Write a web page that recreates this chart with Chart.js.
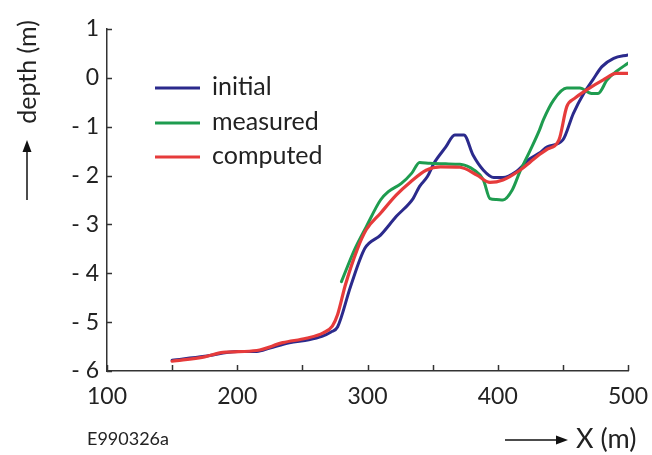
<!DOCTYPE html>
<html><head><meta charset="utf-8">
<script src="https://cdn.jsdelivr.net/npm/chart.js@4/dist/chart.umd.min.js"></script>
<style>html,body{margin:0;padding:0;background:#fff}#wrap{width:652px;height:455px}</style>
</head><body><div id="wrap"><canvas id="c" width="652" height="455"></canvas></div>
<script>
const seriesNames = ['initial', 'measured', 'computed'];
const initialX = [150,175,200,215,225,240,255,265,272,277,287,298,310,322,335,340,346,351,360,367,374,381,389,397,404,414,425,432,438,450,458,466,473,480,489,500];
const initialY = [-5.78,-5.70,-5.60,-5.60,-5.53,-5.42,-5.36,-5.29,-5.20,-5.10,-4.27,-3.49,-3.22,-2.84,-2.47,-2.22,-2.02,-1.75,-1.42,-1.17,-1.17,-1.58,-1.89,-2.04,-2.04,-1.92,-1.65,-1.54,-1.41,-1.27,-0.73,-0.32,-0.04,0.23,0.40,0.47];
const measuredX = [280,290,299,310,316,326,334,340,348,360,371,382,389,394,399,404,411,417,425,432,435,443,453,463,472,477,484,491,500];
const measuredY = [-4.17,-3.52,-3.05,-2.50,-2.33,-2.16,-1.95,-1.73,-1.75,-1.76,-1.77,-1.89,-2.09,-2.47,-2.49,-2.50,-2.30,-1.92,-1.48,-1.07,-0.86,-0.45,-0.21,-0.21,-0.32,-0.32,-0.04,0.13,0.30];
const computedX = [150,175,189,215,235,253,266,273,277,283,292,299,310,322,333,345,356,371,384,394,404,417,425,432,438,447,453,459,468,481,491,500];
const computedY = [-5.80,-5.71,-5.62,-5.58,-5.42,-5.33,-5.22,-5.08,-4.85,-4.24,-3.52,-3.11,-2.77,-2.40,-2.13,-1.89,-1.82,-1.83,-1.99,-2.14,-2.09,-1.89,-1.72,-1.57,-1.46,-1.27,-0.59,-0.42,-0.25,-0.04,0.09,0.09];
const xTickValues = [100,200,300,400,500];
const xMinorStep = 50;
const yTickValues = [-6,-5,-4,-3,-2,-1,0,1];
const yTickLabels = ['- 6','- 5','- 4','- 3','- 2','- 1','0','1'];
const colors = ['#2b2a8c', '#1e9c4f', '#e63b3b'];

const FONT = 'Lato, "Open Sans", sans-serif';
const TXT = '#222';

function pts(xs, ys){ return xs.map((x,i)=>({x:x, y:ys[i]})); }

const extras = {
  id: 'extras',
  afterDraw(chart){
    const ctx = chart.ctx;
    const xs = chart.scales.x, ys = chart.scales.y;
    const ca = chart.chartArea;
    ctx.save();
    ctx.strokeStyle = '#333';
    ctx.lineWidth = 1.5;
    yTickValues.forEach(v=>{
      const p = Math.round(ys.getPixelForValue(v))+0.5;
      ctx.beginPath(); ctx.moveTo(ca.left, p); ctx.lineTo(ca.left+5, p); ctx.stroke();
    });
    for(let v=xs.min; v<=xs.max; v+=xMinorStep){
      const p = Math.round(xs.getPixelForValue(v))+0.5;
      ctx.beginPath(); ctx.moveTo(p, ca.bottom); ctx.lineTo(p, ca.bottom-6); ctx.stroke();
    }
    // legend
    ctx.font = '25px ' + FONT;
    ctx.textBaseline = 'middle';
    ctx.textAlign = 'left';
    const rows = [88,123,157];
    chart.data.datasets.forEach((ds)=>{
      const idx = seriesNames.indexOf(ds.label);
      const y = rows[idx];
      ctx.strokeStyle = ds.borderColor;
      ctx.lineWidth = 3;
      ctx.beginPath(); ctx.moveTo(155, y); ctx.lineTo(200, y); ctx.stroke();
      ctx.fillStyle = TXT;
      ctx.fillText(ds.label, 212, y - 1);
    });
    // y title
    ctx.save();
    ctx.translate(28, 72);
    ctx.rotate(-Math.PI/2);
    ctx.font = '25px ' + FONT;
    ctx.textAlign = 'center';
    ctx.textBaseline = 'middle';
    ctx.fillStyle = TXT;
    ctx.fillText('depth (m)', 0, 0);
    ctx.restore();
    // y arrow
    ctx.strokeStyle = '#111'; ctx.fillStyle = '#111'; ctx.lineWidth = 1.5;
    ctx.beginPath(); ctx.moveTo(27, 200); ctx.lineTo(27, 150); ctx.stroke();
    ctx.beginPath(); ctx.moveTo(27, 140); ctx.lineTo(22.5, 152); ctx.lineTo(31.5, 152); ctx.closePath(); ctx.fill();
    // x arrow
    ctx.beginPath(); ctx.moveTo(505, 440); ctx.lineTo(558, 440); ctx.stroke();
    ctx.beginPath(); ctx.moveTo(568, 440); ctx.lineTo(556, 435.5); ctx.lineTo(556, 444.5); ctx.closePath(); ctx.fill();
    ctx.font = '27px ' + FONT;
    ctx.textAlign = 'left'; ctx.textBaseline = 'middle';
    ctx.fillStyle = TXT;
    ctx.fillText('X (m)', 576, 439);
    ctx.font = '18px ' + FONT;
    ctx.fillText('E990326a', 87, 439);
    ctx.restore();
  }
};

new Chart(document.getElementById('c'), {
  type: 'line',
  data: {
    datasets: [
      {label: seriesNames[0], data: pts(initialX, initialY), borderColor: colors[0], borderWidth: 3, order: 2},
      {label: seriesNames[1], data: pts(measuredX, measuredY), borderColor: colors[1], borderWidth: 3, order: 1},
      {label: seriesNames[2], data: pts(computedX, computedY), borderColor: colors[2], borderWidth: 3.2, order: 0}
    ]
  },
  options: {
    responsive: false,
    animation: false,
    elements: {point: {radius: 0}, line: {cubicInterpolationMode: 'monotone', borderCapStyle: 'round', borderJoinStyle: 'round', fill: false}},
    layout: {padding: {left: 0, right: 24, top: 29, bottom: 0}},
    plugins: {legend: {display: false}, tooltip: {enabled: false}},
    scales: {
      x: {
        type: 'linear', min: 100, max: 500,
        afterBuildTicks: s => { s.ticks = xTickValues.map(v=>({value:v})); },
        afterFit: s => { s.height = 84; s.paddingLeft = 0; s.paddingRight = 0; },
        grid: {display: false, drawTicks: false},
        border: {display: true, color: '#333', width: 1.5},
        ticks: {color: TXT, font: {family: FONT, size: 23}, padding: 12, maxRotation: 0, autoSkip: false}
      },
      y: {
        type: 'linear', min: -6, max: 1,
        afterBuildTicks: s => { s.ticks = yTickValues.map(v=>({value:v})); },
        afterFit: s => { s.width = 107; s.paddingTop = 0; s.paddingBottom = 0; },
        grid: {display: false, drawTicks: false},
        border: {display: true, color: '#333', width: 1.5},
        ticks: {color: TXT, font: {family: FONT, size: 23}, padding: 8, autoSkip: false,
          callback: (v) => yTickLabels[yTickValues.indexOf(v)]}
      }
    }
  },
  plugins: [extras]
});
</script></body></html>
